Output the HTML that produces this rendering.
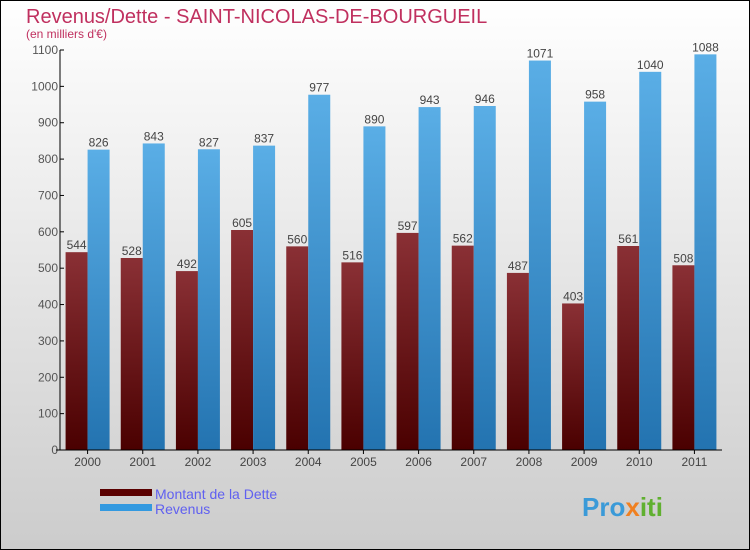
<!DOCTYPE html>
<html><head><meta charset="utf-8"><style>
body{margin:0}
#c{width:750px;height:550px;position:relative;overflow:hidden;box-sizing:border-box;border:1px solid #000;background:linear-gradient(#fff,#ccc);font-family:"Liberation Sans",sans-serif}
</style></head><body>
<div id="c">
<svg width="750" height="550" style="position:absolute;left:-1px;top:-1px" id="s">
<defs>
<linearGradient id="gd" x1="0" y1="0" x2="0" y2="1"><stop offset="0" stop-color="#8a3035"/><stop offset="1" stop-color="#4a0000"/></linearGradient>
<linearGradient id="gr" x1="0" y1="0" x2="0" y2="1"><stop offset="0" stop-color="#5aaee6"/><stop offset="1" stop-color="#2373b0"/></linearGradient>
</defs>
<text x="26" y="23" font-size="20" fill="#c0305f">Revenus/Dette - SAINT-NICOLAS-DE-BOURGUEIL</text>
<text x="26" y="38" font-size="12" fill="#c0305f">(en milliers d'€)</text>
<g id="bars"></g>
<g id="axes"></g>
<rect x="100" y="489" width="52" height="7" fill="#5a0000"/>
<rect x="100" y="504" width="52" height="7" fill="#3399e0"/>
<text x="155" y="499" font-size="14" fill="#6060f0">Montant de la Dette</text>
<text x="155" y="514" font-size="14" fill="#6060f0">Revenus</text>
<text x="582" y="516" font-size="26" font-weight="bold" fill="#3a9ad8">Pro<tspan fill="#f08020">x</tspan><tspan fill="#60b030">iti</tspan></text>
</svg>
</div>
<script>
const years=["2000","2001","2002","2003","2004","2005","2006","2007","2008","2009","2010","2011"];
const dette=[544,528,492,605,560,516,597,562,487,403,561,508];
const revenus=[826,843,827,837,977,890,943,946,1071,958,1040,1088];
const ticks=[0,100,200,300,400,500,600,700,800,900,1000,1100];
const NS="http://www.w3.org/2000/svg";
const x0=60,x1=722,y0=450,y1=50,ymax=1100;
const pitch=(x1-x0)/years.length;
const Y=v=>y0-(v/ymax)*(y0-y1);
const bars=document.getElementById('bars'),axes=document.getElementById('axes');
function mk(tag,attrs,parent){const e=document.createElementNS(NS,tag);for(const k in attrs)e.setAttribute(k,attrs[k]);parent.appendChild(e);return e;}
years.forEach((yr,i)=>{
  const cx=x0+pitch*i+pitch/2;
  const d=mk('rect',{x:cx-22,y:Y(dette[i]),width:22,height:y0-Y(dette[i]),fill:'url(#gd)'},bars);
  
  
  const r=mk('rect',{x:cx,y:Y(revenus[i]),width:22,height:y0-Y(revenus[i]),fill:'url(#gr)'},bars);
  
  
  const t1=mk('text',{x:cx-11,y:Y(dette[i])-3,'font-size':12,fill:'#444','text-anchor':'middle'},bars);t1.textContent=dette[i];
  
  
  const t2=mk('text',{x:cx+11,y:Y(revenus[i])-3,'font-size':12,fill:'#444','text-anchor':'middle'},bars);t2.textContent=revenus[i];
  
  
  const xl=mk('text',{x:cx,y:466,'font-size':12,fill:'#444','text-anchor':'middle'},axes);xl.textContent=yr;
  
  
  mk('line',{x1:cx,x2:cx,y1:y0,y2:y0+4,stroke:'#000'},axes);
});
ticks.forEach(t=>{
  mk('line',{x1:x0,x2:x0+4,y1:Y(t),y2:Y(t),stroke:'#000'},axes);
  const l=mk('text',{x:x0-2,y:Y(t)+4,'font-size':12,fill:'#555','text-anchor':'end'},axes);l.textContent=t;
  
  
});
const ya=mk('line',{x1:x0,x2:x0,y1:y1,y2:y0,stroke:'#000'},axes);


const xa=mk('line',{x1:x0-4,x2:x1,y1:y0,y2:y0,stroke:'#000'},axes);


</script>
</body></html>
